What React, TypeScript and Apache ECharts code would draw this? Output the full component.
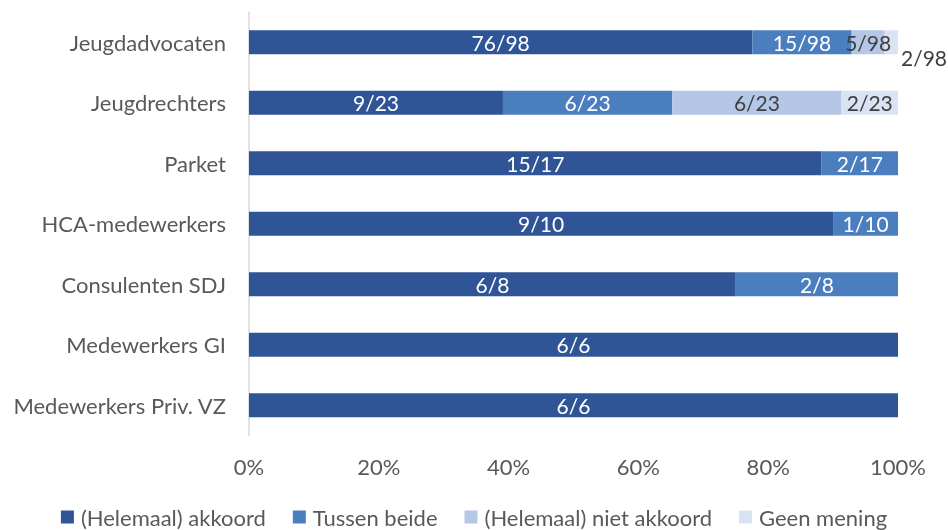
import React, { useEffect, useRef } from "react";
import * as echarts from "echarts";

const categories = [
  "Jeugdadvocaten",
  "Jeugdrechters",
  "Parket",
  "HCA-medewerkers",
  "Consulenten SDJ",
  "Medewerkers GI",
  "Medewerkers Priv. VZ",
];
const seriesNames = ["(Helemaal) akkoord", "Tussen beide", "(Helemaal) niet akkoord", "Geen mening"];
const akkoord = [76, 9, 15, 9, 6, 6, 6];
const tussen = [15, 6, 2, 1, 2, 0, 0];
const nietAkkoord = [5, 6, 0, 0, 0, 0, 0];
const geenMening = [2, 2, 0, 0, 0, 0, 0];
const xTicks = ["0%", "20%", "40%", "60%", "80%", "100%"];

const colors = ["#2F5597", "#4A7EBF", "#B4C7E7", "#DAE3F3"];
const labelColors = ["#FFFFFF", "#FFFFFF", "#404040", "#404040"];
const FONT = "Lato";
const FS = 22;

export default function App() {
  const ref = useRef<HTMLDivElement>(null);
  useEffect(() => {
    const chart = echarts.init(ref.current!, null, { renderer: "svg" });
    const all = [akkoord, tussen, nietAkkoord, geenMening];
    const totals = categories.map((_, i) => all.reduce((s, a) => s + a[i], 0));
    const series = all.map((arr, si) => ({
      name: seriesNames[si],
      type: "bar",
      stack: "total",
      barWidth: 24,
      itemStyle: { color: colors[si] },
      label: {
        show: true,
        position: "inside",
        color: labelColors[si],
        fontFamily: FONT,
        fontSize: 21,
        formatter: (p: any) => `${arr[p.dataIndex]}/${totals[p.dataIndex]}`,
      },
      data: arr.map((v, i) => {
        const item: any = { value: v === 0 ? null : (v / totals[i]) * 100 };
        if (si === 3 && i === 0) {
          item.label = { position: "right", distance: 3, offset: [0, 15] };
        }
        return item;
      }),
    }));
    chart.setOption({
      animation: false,
      textStyle: { fontFamily: FONT },
      grid: { left: 249, right: 50, top: 12, bottom: 94.5 },
      xAxis: {
        type: "value",
        min: 0,
        max: 100,
        interval: 20,
        splitLine: { show: false },
        axisLine: { show: false },
        axisTick: { show: false },
        axisLabel: {
          color: "#595959",
          fontSize: FS,
          fontFamily: FONT,
          margin: 20,
          formatter: (v: number) => xTicks[Math.round(v / 20)],
        },
      },
      yAxis: {
        type: "category",
        data: categories,
        inverse: true,
        axisLine: { show: true, lineStyle: { color: "#D9D9D9", width: 1.5 } },
        axisTick: { show: false },
        axisLabel: { color: "#595959", fontSize: FS, fontFamily: FONT, margin: 23 },
      },
      legend: {
        top: 506,
        left: "center",
        padding: 0,
        itemWidth: 13,
        itemHeight: 13,
        itemGap: 27,
        icon: "rect",
        textStyle: { color: "#595959", fontSize: FS, fontFamily: FONT, padding: [0, 0, 0, 2] },
        data: seriesNames,
      },
      series,
    });
    return () => chart.dispose();
  }, []);
  return (
    <div
      ref={ref}
      style={{ position: "fixed", left: 0, top: 0, width: 948, height: 530 }}
    />
  );
}
